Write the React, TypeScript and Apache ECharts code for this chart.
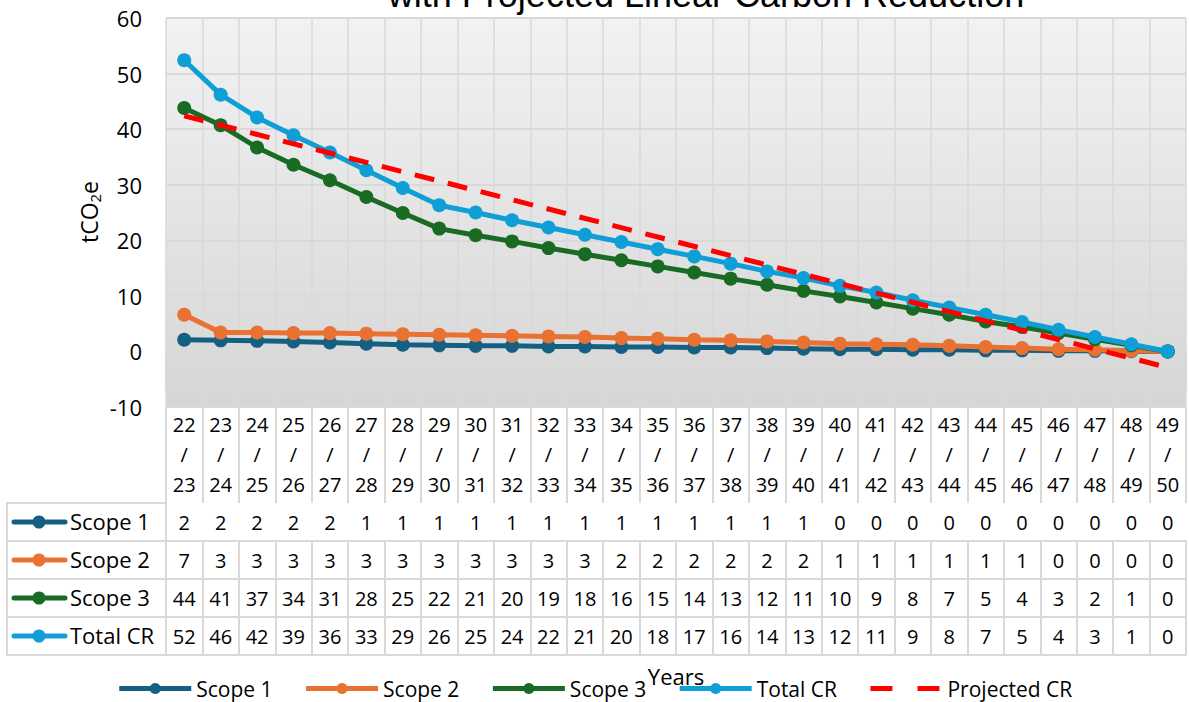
import React, { useEffect, useRef } from "react";
import * as echarts from "echarts";

const categories = [
  "22/23", "23/24", "24/25", "25/26", "26/27", "27/28", "28/29", "29/30", "30/31", "31/32",
  "32/33", "33/34", "34/35", "35/36", "36/37", "37/38", "38/39", "39/40", "40/41", "41/42",
  "42/43", "43/44", "44/45", "45/46", "46/47", "47/48", "48/49", "49/50",
];

const scope1 = [2.1, 2.0, 1.9, 1.8, 1.6, 1.4, 1.2, 1.1, 1.0, 1.0, 0.9, 0.9, 0.8, 0.8, 0.7, 0.7, 0.6, 0.5, 0.4, 0.4, 0.3, 0.3, 0.2, 0.2, 0.1, 0.1, 0.05, 0];
const scope2 = [6.6, 3.4, 3.4, 3.3, 3.3, 3.2, 3.1, 3.0, 2.9, 2.8, 2.7, 2.6, 2.4, 2.3, 2.1, 2.0, 1.8, 1.6, 1.4, 1.3, 1.2, 1.0, 0.8, 0.6, 0.4, 0.3, 0.1, 0];
const scope3 = [43.8, 40.7, 36.7, 33.6, 30.8, 27.8, 24.9, 22.1, 20.9, 19.8, 18.6, 17.5, 16.4, 15.3, 14.2, 13.1, 12.0, 10.9, 9.9, 8.8, 7.7, 6.6, 5.4, 4.4, 3.3, 2.2, 1.1, 0];
const totalCR = [52.4, 46.2, 42.1, 38.9, 35.8, 32.6, 29.4, 26.3, 25.0, 23.6, 22.3, 21.0, 19.7, 18.4, 17.1, 15.8, 14.4, 13.2, 11.8, 10.6, 9.2, 7.9, 6.6, 5.3, 3.9, 2.6, 1.3, 0];
// Projected linear reduction: start and end points, joined by a straight line
const projectedStart = 42.4;
const projectedEnd = -2.9;

const seriesNames = ["Scope 1", "Scope 2", "Scope 3", "Total CR", "Projected CR"];
const seriesColors = ["#156082", "#E97132", "#196B24", "#0F9ED5", "#FF0000"];
const tableSeries = [scope1, scope2, scope3, totalCR];

const yTicks = { min: -10, max: 60, interval: 10 };

const FONT = "'Open Sans', 'Noto Sans', sans-serif";
const TITLE_FONT = "'Liberation Sans', Arial, sans-serif";
const GRID_LEFT = 166;
const GRID_RIGHT = 3;
const GRID_TOP = 18;
const GRID_BOTTOM_Y = 407;
const HEADER_H = 96;
const ROW_H = 38;
const LINE_COLOR = "#d9d9d9";

export default function App() {
  const ref = useRef<HTMLDivElement>(null);

  useEffect(() => {
    if (!ref.current) return;
    const chart = echarts.init(ref.current, undefined, { renderer: "svg" });

    const projected = categories.map((_, i) =>
      i === 0 ? projectedStart : i === categories.length - 1 ? projectedEnd : null
    );

    const rowAxes = tableSeries.map((arr, k) => ({
      type: "category",
      data: categories,
      gridIndex: 0,
      position: "bottom",
      offset: HEADER_H + ROW_H * k,
      boundaryGap: true,
      axisLine: { show: true, lineStyle: { color: LINE_COLOR, width: 2 } },
      axisTick: { show: true, length: ROW_H, interval: 0, lineStyle: { color: LINE_COLOR, width: 2 } },
      axisLabel: {
        interval: 0,
        margin: 8,
        fontSize: 20,
        lineHeight: 22,
        color: "#000",
        fontFamily: FONT,
        formatter: (_v: string, i: number) => String(Math.round(arr[i])),
      },
      splitLine: { show: false },
    }));

    const bottomAxis = {
      type: "category",
      data: categories,
      gridIndex: 0,
      position: "bottom",
      offset: HEADER_H + ROW_H * tableSeries.length,
      boundaryGap: true,
      axisLine: { show: true, lineStyle: { color: LINE_COLOR, width: 2 } },
      axisTick: { show: false },
      axisLabel: { show: false },
      splitLine: { show: false },
    };

    const labelCells: any[] = [];
    tableSeries.forEach((_, k) => {
      const y0 = GRID_BOTTOM_Y + HEADER_H + ROW_H * k;
      const cy = y0 + ROW_H / 2;
      labelCells.push({
        type: "rect",
        shape: { x: 7, y: y0, width: GRID_LEFT - 7, height: ROW_H },
        style: { fill: "#fff", stroke: LINE_COLOR, lineWidth: 2 },
        z: 1,
      });
      labelCells.push({
        type: "line",
        shape: { x1: 14, y1: cy, x2: 65, y2: cy },
        style: { stroke: seriesColors[k], lineWidth: 5, lineCap: "round" },
        z: 2,
      });
      labelCells.push({
        type: "circle",
        shape: { cx: 39, cy, r: 6.5 },
        style: { fill: seriesColors[k] },
        z: 3,
      });
      labelCells.push({
        type: "text",
        x: 70,
        y: cy - 1,
        style: {
          text: seriesNames[k],
          fontSize: 22,
          fontFamily: FONT,
          fill: "#000",
          verticalAlign: "middle",
        },
        z: 3,
      });
    });

    const lineSeries = tableSeries.map((arr, k) => ({
      name: seriesNames[k],
      type: "line",
      data: arr,
      xAxisIndex: 0,
      yAxisIndex: 0,
      symbol: "circle",
      symbolSize: 14,
      lineStyle: { color: seriesColors[k], width: 5 },
      itemStyle: { color: seriesColors[k] },
      z: 2 + k,
    }));

    const legendData: any[] = seriesNames.map((n, i) =>
      i === 4
        ? { name: n, itemStyle: { color: "rgba(0,0,0,0)", borderWidth: 0 }, lineStyle: { type: [22, 25], width: 5, color: seriesColors[4] } }
        : { name: n }
    );

    chart.setOption({
      animation: false,
      backgroundColor: "#fff",
      textStyle: { fontFamily: FONT },
      graphic: [
        {
          type: "text",
          x: 706,
          y: 12,
          style: {
            text: "with Projected Linear Carbon Reduction",
            fontSize: 36,
            fontFamily: TITLE_FONT,
            fill: "#000",
            align: "center",
            verticalAlign: "bottom",
          },
        },
        {
          type: "text",
          x: 89,
          y: 212,
          rotation: Math.PI / 2,
          style: {
            text: "{a|tCO}{b|2}{a|e}",
            align: "center",
            verticalAlign: "middle",
            rich: {
              a: { fontSize: 23, fontFamily: FONT, fill: "#000", color: "#000" },
              b: { fontSize: 15, fontFamily: FONT, fill: "#000", color: "#000", padding: [12, 0, 0, 0] },
            },
          },
        },
        ...labelCells,
      ],
      grid: {
        left: GRID_LEFT,
        right: GRID_RIGHT,
        top: GRID_TOP,
        bottom: 702 - GRID_BOTTOM_Y,
        show: true,
        borderWidth: 0,
        backgroundColor: new echarts.graphic.LinearGradient(0, 0, 0, 1, [
          { offset: 0, color: "#f2f2f2" },
          { offset: 1, color: "#d6d6d6" },
        ]),
      },
      legend: {
        data: legendData,
        left: "center",
        top: 673,
        itemWidth: 72,
        itemHeight: 14,
        itemGap: 31,
        lineStyle: { width: 5 },
        textStyle: { fontSize: 21, fontFamily: FONT, color: "#000" },
      },
      xAxis: [
        {
          type: "category",
          data: categories,
          gridIndex: 0,
          position: "bottom",
          boundaryGap: true,
          name: "Years",
          nameLocation: "middle",
          nameGap: 258,
          nameTextStyle: { fontSize: 22, fontFamily: FONT, color: "#000" },
          axisLine: { show: true, onZero: false, lineStyle: { color: LINE_COLOR, width: 2 } },
          axisTick: { show: true, length: HEADER_H, interval: 0, lineStyle: { color: LINE_COLOR, width: 2 } },
          axisLabel: {
            interval: 0,
            margin: 2,
            fontSize: 20,
            lineHeight: 30,
            color: "#000",
            fontFamily: FONT,
            formatter: (v: string) => v.replace("/", "\n/\n"),
          },
          splitLine: { show: true, interval: 0, lineStyle: { color: LINE_COLOR, width: 1.5 } },
        },
        ...rowAxes,
        bottomAxis,
      ],
      yAxis: {
        type: "value",
        min: yTicks.min,
        max: yTicks.max,
        interval: yTicks.interval,
        axisLine: { show: false },
        axisTick: { show: false },
        axisLabel: { fontSize: 22, color: "#000", fontFamily: FONT, margin: 24 },
        splitLine: { show: true, lineStyle: { color: LINE_COLOR, width: 2 } },
      },
      series: [
        ...lineSeries,
        {
          name: seriesNames[4],
          type: "line",
          data: projected,
          connectNulls: true,
          xAxisIndex: 0,
          yAxisIndex: 0,
          symbol: "none",
          showSymbol: false,
          lineStyle: { color: seriesColors[4], width: 5, type: [20, 14] },
          itemStyle: { color: seriesColors[4] },
          z: 10,
        },
      ],
    });

    return () => chart.dispose();
  }, []);

  return (
    <div
      ref={ref}
      style={{ position: "fixed", left: 0, top: 0, width: 1189, height: 702 }}
    />
  );
}
